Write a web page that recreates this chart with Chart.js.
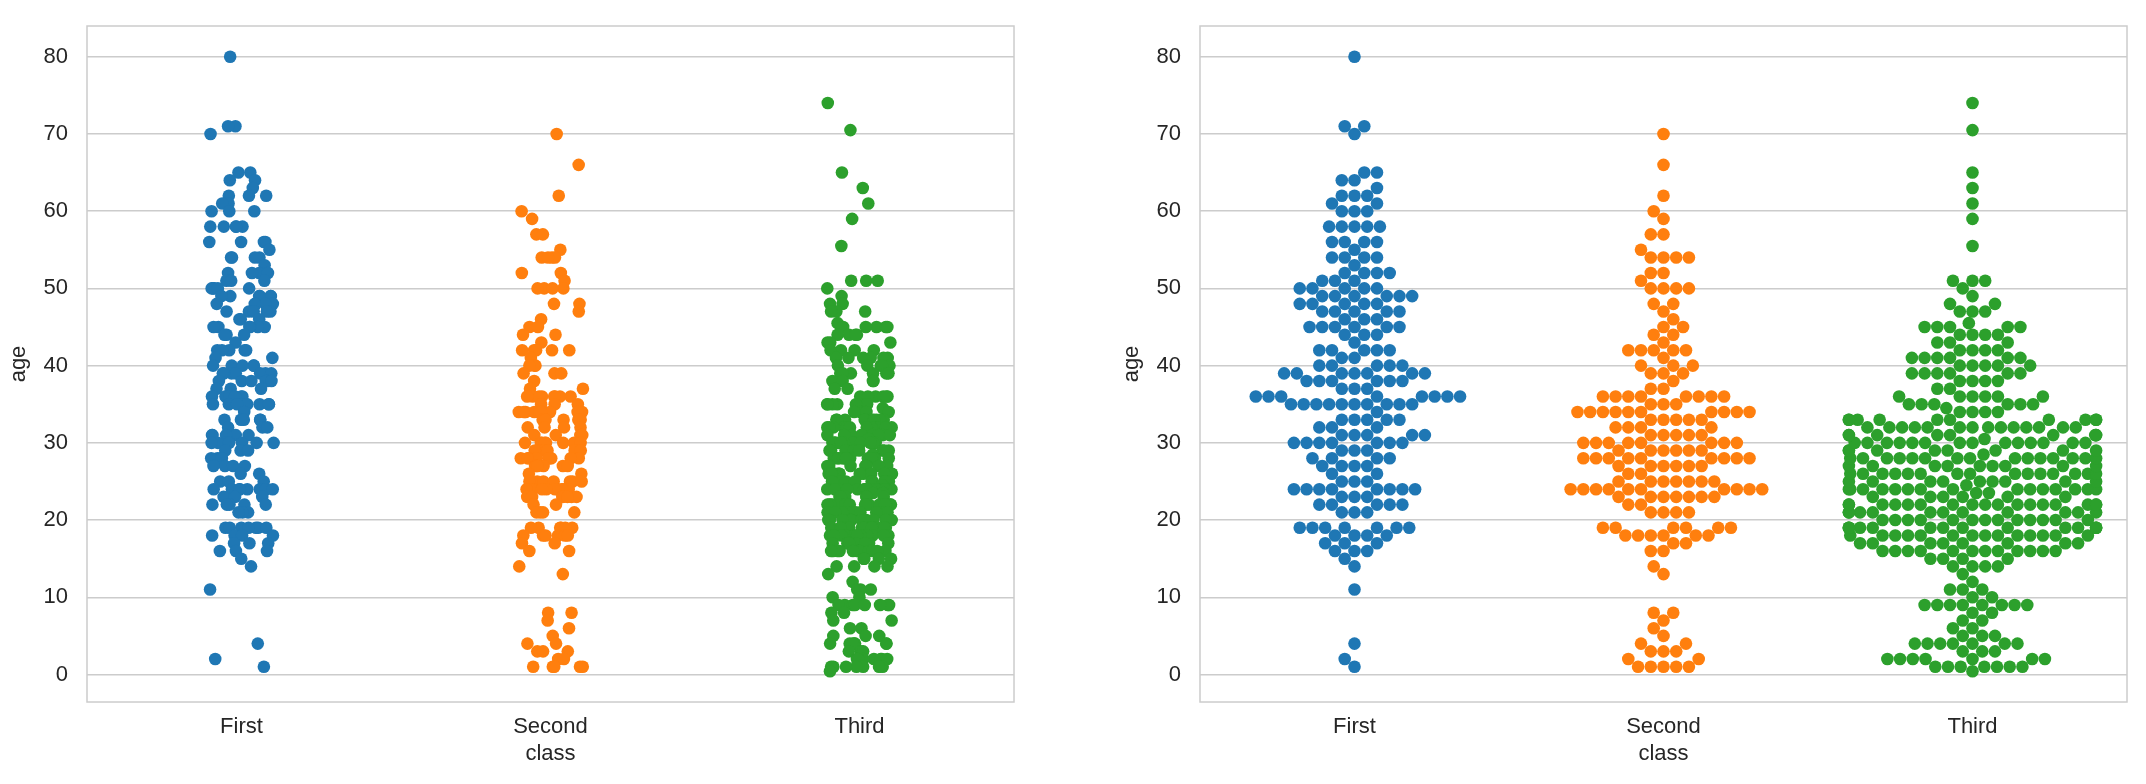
<!DOCTYPE html>
<html><head><meta charset="utf-8">
<script src="https://cdn.jsdelivr.net/npm/chart.js@4.4.1/dist/chart.umd.min.js"></script>
<style>
html,body{margin:0;padding:0;background:#fff;}
#wrap{position:relative;width:2146px;height:784px;overflow:hidden;}
.c{position:absolute;top:0;width:1073px;height:784px;}
</style></head><body>
<div id="wrap">
<div class="c" style="left:0"><canvas id="strip" width="1073" height="784"></canvas></div>
<div class="c" style="left:1073px"><canvas id="swarm" width="1073" height="784"></canvas></div>
</div>
<script>
// ---- data ----
const categories = ['First', 'Second', 'Third'];
const yTicks = [0, 10, 20, 30, 40, 50, 60, 70, 80];
const xTitle = 'class';
const yTitle = 'age';

const firstAge   = [80,71,70,65,64,63,62,61,60,58,56,55,54,53,52,51,50,49,48,47,46,45,44,43,42,41,40,39,38,37,36,35,34,33,32,31,30,29,28,27,26,25,24,23,22,21,19,18,17,16,15,14,11,4,2,1];
const firstCount = [1,2,1,2,2,1,3,2,3,5,4,1,4,1,4,3,5,6,5,5,3,6,3,1,5,2,5,7,6,3,8,10,1,5,3,5,7,3,4,4,2,3,8,3,5,3,7,4,3,3,1,1,1,1,1,1];

const secondAge   = [70,66,62,60,59,57,55,54,52,51,50,48,47,46,45,44,43,42,41,40,39,38,37,36,35,34,33,32,31,30,29,28,27,26,25,24,23,22,21,19,18,17,16,14,13,8,7,6,5,4,3,2,1];
const secondCount = [1,1,1,1,1,2,1,4,2,1,4,2,1,1,2,2,1,5,1,3,3,1,2,8,3,10,5,4,5,8,6,9,6,2,7,10,7,2,4,6,6,2,2,1,1,2,1,1,1,2,3,2,5];

const thirdAge   = [74,70.5,65,63,61,59,55.5,51,50,49,48,47,45.5,45,44,43,42,41,40,39,38,37,36,35,34.5,34,33,32,31,30.5,30,29,28.5,28,27,26,25,24.5,24,23.5,23,22,21,20,19,18,17,16,15,14,13,12,11,10,9,8,7,6,5,4,3,2,1,0.42];
const thirdCount = [1,1,1,1,1,1,1,3,1,1,2,3,1,5,4,3,4,6,5,6,4,2,6,6,1,4,10,14,9,1,14,8,1,15,9,15,9,1,15,2,6,17,11,13,14,14,8,12,4,4,1,1,3,2,8,2,2,2,3,7,3,7,7,1];

const colors = ['#1f77b4', '#ff7f0e', '#2ca02c'];

// ---- layout constants ----
const FONT = "'Liberation Sans', Arial, Helvetica, sans-serif";
const TEXT = '#262626';
const GRID = '#cccccc';
const Y_MIN = -3.56, Y_MAX = 83.98;
const PLOT_TOP = 26, PLOT_H = 676, PLOT_W = 927;
const DOT_R = 6.3;          // drawn radius
const SWARM_R = 6.05;       // radius used for swarm packing

function expand(ages, counts) {
  const out = [];
  ages.forEach((a, i) => { for (let k = 0; k < counts[i]; k++) out.push(a); });
  return out;
}
const groups = [expand(firstAge, firstCount), expand(secondAge, secondCount), expand(thirdAge, thirdCount)];

// deterministic jitter for the strip plot (layout only)
function jit(k, c) {
  const x = Math.sin(k * 127.1 + c * 311.7 + 17.3) * 43758.5453;
  return x - Math.floor(x);
}

// beeswarm layout (same rule as seaborn's swarm)
function swarm(ages) {
  const pxY = PLOT_H / (Y_MAX - Y_MIN);
  const pxX = PLOT_W / 3;
  const half = 0.4 * pxX;
  const pts = ages.map(a => ({ v: a, py: a * pxY, x: 0 })).sort((a, b) => a.py - b.py);
  const d2 = 4 * SWARM_R * SWARM_R;
  const placed = [];
  for (const p of pts) {
    const nb = [];
    for (let j = placed.length - 1; j >= 0; j--) {
      if (p.py - placed[j].py < 2 * SWARM_R) nb.push(placed[j]); else break;
    }
    let cands = [0];
    let leftFirst = true;
    for (const n of nb) {
      const dy = p.py - n.py;
      const dx = Math.sqrt(Math.max(d2 - dy * dy, 0)) * 1.05;
      if (leftFirst) cands.push(n.x - dx, n.x + dx); else cands.push(n.x + dx, n.x - dx);
      leftFirst = !leftFirst;
    }
    cands = cands.map((c, i) => ({ c, i }))
      .sort((a, b) => (Math.abs(a.c) - Math.abs(b.c)) || (a.i - b.i))
      .map(o => o.c);
    let chosen = cands[cands.length - 1];
    for (const c of cands) {
      let ok = true;
      for (const n of nb) {
        const dx = n.x - c, dy = n.py - p.py;
        if (dx * dx + dy * dy < d2 - 1e-6) { ok = false; break; }
      }
      if (ok) { chosen = c; break; }
    }
    p.x = chosen;
    placed.push(p);
  }
  return pts.map(p => ({ x: Math.max(-half, Math.min(half, p.x)) / pxX, y: p.v }));
}

const stripSets = groups.map((g, c) => ({
  data: g.map((a, k) => ({ x: c + (jit(k, c) * 2 - 1) * 0.105, y: a })),
  backgroundColor: colors[c], borderWidth: 0, pointRadius: DOT_R, pointHoverRadius: DOT_R
}));
const swarmSets = groups.map((g, c) => ({
  data: swarm(g).map(p => ({ x: c + p.x, y: p.y })),
  backgroundColor: colors[c], borderWidth: 0, pointRadius: DOT_R, pointHoverRadius: DOT_R
}));

const boxPlugin = {
  id: 'box',
  beforeDatasetsDraw(chart) {
    const a = chart.chartArea, ctx = chart.ctx;
    ctx.save();
    ctx.strokeStyle = GRID;
    ctx.lineWidth = 1.5;
    ctx.strokeRect(a.left, a.top, a.right - a.left, a.bottom - a.top);
    ctx.restore();
  }
};

function makeChart(id, datasets, padLeft, padRight) {
  return new Chart(document.getElementById(id), {
    type: 'scatter',
    data: { datasets },
    options: {
      responsive: false, animation: false, devicePixelRatio: 1,
      layout: { padding: { left: padLeft, right: padRight, top: PLOT_TOP, bottom: 0 } },
      plugins: { legend: { display: false }, tooltip: { enabled: false } },
      scales: {
        x: {
          type: 'linear', min: -0.5, max: 2.5,
          afterBuildTicks: s => { s.ticks = categories.map((c, i) => ({ value: i })); },
          afterFit: s => { s.height = 82; s.paddingLeft = 0; s.paddingRight = 0; },
          ticks: { callback: v => categories[v] ?? '', font: { family: FONT, size: 22 }, color: TEXT,
                   padding: 12, maxRotation: 0, autoSkip: false },
          grid: { display: false, drawTicks: false },
          border: { display: false },
          title: { display: true, text: xTitle, font: { family: FONT, size: 22 }, color: TEXT,
                   padding: { top: 0, bottom: 17 } }
        },
        y: {
          type: 'linear', min: Y_MIN, max: Y_MAX,
          afterBuildTicks: s => { s.ticks = yTicks.map(v => ({ value: v })); },
          afterFit: s => { s.width = 87; s.paddingTop = 0; s.paddingBottom = 0; },
          ticks: { font: { family: FONT, size: 22 }, color: TEXT, padding: 19 },
          grid: { color: GRID, lineWidth: 1.4, drawTicks: false },
          border: { display: false },
          title: { display: true, text: yTitle, font: { family: FONT, size: 22 }, color: TEXT,
                   padding: { top: 6, bottom: 0 } }
        }
      }
    },
    plugins: [boxPlugin]
  });
}

makeChart('strip', stripSets, 0, 1073 - 87 - PLOT_W);
makeChart('swarm', swarmSets, 40, 1073 - 40 - 87 - PLOT_W);
</script>
</body></html>
